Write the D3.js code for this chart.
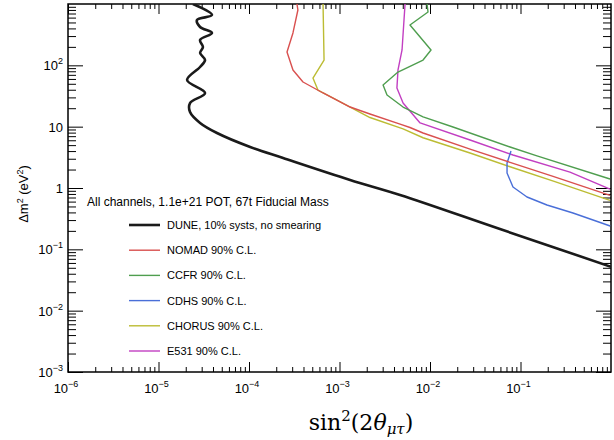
<!DOCTYPE html>
<html>
<head>
<meta charset="utf-8">
<script src="https://cdn.jsdelivr.net/npm/d3@7"></script>
<style>
  body { margin: 0; background: #fff; }
  svg { display: block; }
  text { fill: #000; }
</style>
</head>
<body>
<div id="graph"></div>
<script>
let width = 614;
let height = 440;

// tick decades
let xMajorExps = [-6, -5, -4, -3, -2, -1];
let yMajorExps = [-3, -2, -1, 0, 1, 2];
let yTickLabels = [["10", "-3"], ["10", "-2"], ["10", "-1"], ["1", ""], ["10", ""], ["10", "2"]];

// curves: [sin^2(2theta), dm^2]
let dune = [[2.40e-5, 1000], [3.90e-5, 662], [2.66e-5, 548], [2.88e-5, 422], [3.90e-5, 337],
  [2.88e-5, 259], [3.10e-5, 199], [2.88e-5, 159], [3.27e-5, 122], [2.88e-5, 94],
  [2.07e-5, 57.7], [3.27e-5, 35.4], [2.23e-5, 24.3], [2.23e-5, 17.3], [2.88e-5, 11.5],
  [4.43e-5, 7.88], [1.03e-4, 4.66], [2.38e-4, 3.08], [1.31e-3, 1.35], [4.67e-3, 0.769],
  [0.0593, 0.214], [1.0, 0.052]];
let nomad = [[3.39e-4, 1000], [3.47e-4, 798], [3.06e-4, 337], [2.63e-4, 165], [3.06e-4, 84],
  [3.95e-4, 53.5], [6.58e-4, 35.4], [1.31e-3, 20.9], [2.17e-3, 16.1], [4.67e-3, 11.0],
  [6.01e-3, 9.69], [8.38e-3, 7.88], [0.0277, 4.30], [0.0766, 2.62], [0.229, 1.55], [0.975, 0.76]];
let ccfr = [[9.27e-3, 1000], [9.51e-3, 741], [6.01e-3, 455], [0.01026, 178], [8.38e-3, 122],
  [4.43e-3, 77.8], [3.03e-3, 47.8], [3.35e-3, 32.8], [5.04e-3, 20.9], [8.38e-3, 14.4],
  [0.01795, 9.87], [0.0766, 4.66], [0.152, 3.33], [0.975, 1.40]];
let cdhs = [[0.0785, 4.01], [0.0710, 2.55], [0.0710, 1.76], [0.0826, 1.04], [0.118, 0.713],
  [0.196, 0.528], [0.380, 0.391], [0.98, 0.240]];
let chorus = [[6.58e-4, 1000], [6.75e-4, 122], [5.09e-4, 62.1], [5.78e-4, 39.6], [9.38e-4, 27.2],
  [2.17e-3, 14.1], [5.04e-3, 9.2], [8.38e-3, 6.6], [0.0277, 3.72], [0.0766, 2.22],
  [0.240, 1.27], [0.975, 0.63]];
let e531 = [[5.30e-3, 1000], [4.91e-3, 178], [4.43e-3, 84], [4.31e-3, 42.7], [5.04e-3, 24.3],
  [7.77e-3, 11.5], [0.0277, 6.06], [0.0826, 3.45], [0.352, 1.82], [0.975, 0.96]];

let series = [
  {name: "DUNE, 10% systs, no smearing", data: dune, color: "#1a1a1a", w: 2.6, smooth: true},
  {name: "NOMAD 90% C.L.", data: nomad, color: "#d9504f", w: 1.4},
  {name: "CCFR 90% C.L.", data: ccfr, color: "#4f9e4f", w: 1.4},
  {name: "CDHS 90% C.L.", data: cdhs, color: "#4a6fd8", w: 1.4},
  {name: "CHORUS 90% C.L.", data: chorus, color: "#bcbc33", w: 1.4},
  {name: "E531 90% C.L.", data: e531, color: "#c23fc2", w: 1.4}
];

let sans = "'Liberation Sans', Arial, sans-serif";
let serif = "'DejaVu Serif', serif";

let frameL = 68, frameR = 611, frameT = 4, frameB = 372;

let x = d3.scaleLog().domain([1e-6, 1]).range([frameL, frameR]);
let y = d3.scaleLog().domain([1e-3, 1e3]).range([frameB, frameT]);

let svg = d3.select("#graph").append("svg")
    .attr("width", width)
    .attr("height", height)
    .style("font-family", sans);

svg.append("clipPath").attr("id", "clip")
    .append("rect")
    .attr("x", frameL).attr("y", frameT)
    .attr("width", frameR - frameL).attr("height", frameB - frameT);

// minor / major tick values
function minors(domain) {
    let out = [];
    let lo = Math.round(Math.log10(domain[0])), hi = Math.round(Math.log10(domain[1]));
    for (let e = lo; e < hi; e++)
        for (let k = 2; k <= 9; k++) out.push(k * Math.pow(10, e));
    return out;
}
let xMinor = minors(x.domain());
let yMinor = minors(y.domain());
let xMajor = xMajorExps.map(e => Math.pow(10, e));
let yMajor = yMajorExps.map(e => Math.pow(10, e));

function tickGroup(axis, tx, ty) {
    let g = svg.append("g").attr("transform", `translate(${tx},${ty})`).call(axis);
    g.select(".domain").remove();
    g.selectAll("text").remove();
    g.selectAll("line").attr("stroke", "#000").attr("stroke-width", 1);
    return g;
}

// ticks on all four sides, pointing inwards
tickGroup(d3.axisTop(x).tickValues(xMajor).tickSize(10), 0, frameB);
tickGroup(d3.axisTop(x).tickValues(xMinor).tickSize(5), 0, frameB);
tickGroup(d3.axisBottom(x).tickValues(xMajor).tickSize(10), 0, frameT);
tickGroup(d3.axisBottom(x).tickValues(xMinor).tickSize(5), 0, frameT);
tickGroup(d3.axisRight(y).tickValues(yMajor).tickSize(15), frameL, 0);
tickGroup(d3.axisRight(y).tickValues(yMinor).tickSize(8), frameL, 0);
tickGroup(d3.axisLeft(y).tickValues(yMajor).tickSize(15), frameR, 0);
tickGroup(d3.axisLeft(y).tickValues(yMinor).tickSize(8), frameR, 0);

// frame
svg.append("rect")
    .attr("x", frameL).attr("y", frameT)
    .attr("width", frameR - frameL).attr("height", frameB - frameT)
    .attr("fill", "none")
    .attr("stroke", "#000")
    .attr("stroke-width", 1.5);

// tick labels
let xl = svg.append("g").attr("font-size", 13);
xMajorExps.forEach(e => {
    let t = xl.append("text")
        .attr("x", x(Math.pow(10, e)) - 2)
        .attr("y", 393)
        .attr("text-anchor", "middle");
    t.append("tspan").text("10");
    t.append("tspan").attr("dy", -6).attr("font-size", 9).text("\u2212" + (-e));
});

let yl = svg.append("g").attr("font-size", 13);
yMajorExps.forEach((e, i) => {
    let lab = yTickLabels[i];
    let t = yl.append("text")
        .attr("x", 63)
        .attr("y", y(Math.pow(10, e)) + 5)
        .attr("text-anchor", "end");
    t.append("tspan").text(lab[0]);
    if (lab[1] !== "") {
        let s = lab[1].replace("-", "\u2212");
        t.append("tspan").attr("dy", -6).attr("font-size", 9).text(s);
    }
});

// axis titles
let yt = svg.append("text")
    .attr("transform", "translate(28,194) rotate(-90)")
    .attr("text-anchor", "middle")
    .attr("font-size", 13);
yt.append("tspan").text("\u0394m");
yt.append("tspan").attr("dy", -5).attr("font-size", 9).text("2");
yt.append("tspan").attr("dy", 5).text(" (eV");
yt.append("tspan").attr("dy", -5).attr("font-size", 9).text("2");
yt.append("tspan").attr("dy", 5).text(")");

let xt = svg.append("text")
    .attr("x", 361)
    .attr("y", 430)
    .attr("text-anchor", "middle")
    .style("font-family", serif)
    .attr("font-size", 22);
xt.append("tspan").text("sin");
xt.append("tspan").attr("dy", -9).attr("font-size", 15).text("2");
xt.append("tspan").attr("dy", 9).text("(2");
xt.append("tspan").attr("font-style", "italic").text("\u03b8");
xt.append("tspan").attr("dy", 4).attr("font-size", 15).attr("font-style", "italic").text("\u03bc\u03c4");
xt.append("tspan").attr("dy", -4).text(")");

// curves
let line = d3.line()
    .x(d => x(d[0]))
    .y(d => y(d[1]));

let curves = svg.append("g").attr("clip-path", "url(#clip)").attr("fill", "none");
series.slice().reverse().forEach(s => {
    curves.append("path")
        .datum(s.data)
        .attr("d", line.curve(s.smooth ? d3.curveCatmullRom.alpha(0.5) : d3.curveLinear))
        .attr("stroke", s.color)
        .attr("stroke-width", s.w)
        .attr("stroke-linejoin", "round");
});

// legend
svg.append("text")
    .attr("x", 87)
    .attr("y", 206)
    .attr("font-size", 12)
    .text("All channels, 1.1e+21 POT, 67t Fiducial Mass");

let legend = svg.append("g")
    .selectAll("g")
    .data(series)
    .join("g")
    .attr("transform", (d, i) => `translate(0,${225 + i * 25.2})`);

legend.append("line")
    .attr("x1", 129).attr("x2", 160)
    .attr("stroke", d => d.color)
    .attr("stroke-width", d => d.w);

legend.append("text")
    .attr("x", 167)
    .attr("y", 4)
    .attr("font-size", 11)
    .text(d => d.name);
</script>
</body>
</html>
